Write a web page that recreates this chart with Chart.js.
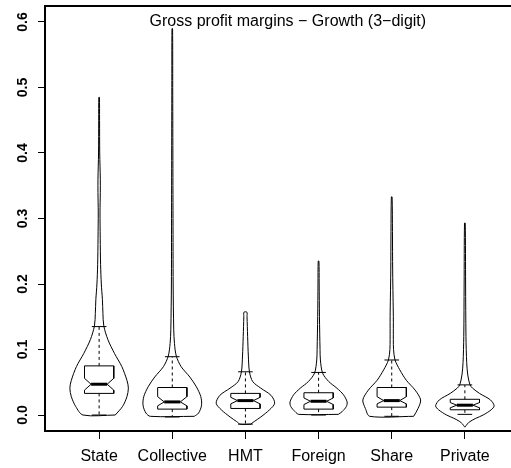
<!DOCTYPE html>
<html>
<head>
<meta charset="utf-8">
<script src="https://cdn.jsdelivr.net/npm/chart.js@4/dist/chart.umd.min.js"></script>
<style>
  html, body { margin: 0; padding: 0; background: #fff; overflow: hidden; }
  #wrap { width: 530px; height: 468px; }
</style>
</head>
<body>
<div id="wrap"><canvas id="violins"></canvas></div>
<script>
// categories and tick labels
const categories = ['State', 'Collective', 'HMT', 'Foreign', 'Share', 'Private'];
const yTicks = [0, 0.1, 0.2, 0.3, 0.4, 0.5, 0.6];
const chartTitle = 'Gross profit margins \u2212 Growth (3\u2212digit)';

// violin outlines: level (y) and half width (x units)
const stateLevels = [0.0, 0.013, 0.028, 0.041, 0.053, 0.074, 0.094, 0.115, 0.136, 0.155, 0.176, 0.2, 0.23, 0.27, 0.31, 0.34, 0.36, 0.4, 0.45, 0.485];
const stateWidths = [0.22, 0.32, 0.38, 0.40, 0.38, 0.31, 0.21, 0.12, 0.064, 0.052, 0.045, 0.03, 0.02, 0.015, 0.012, 0.016, 0.016, 0.008, 0.006, 0.004];
const collectiveLevels = [-0.002, 0.003, 0.015, 0.028, 0.043, 0.058, 0.074, 0.09, 0.109, 0.13, 0.2, 0.3, 0.4, 0.5, 0.59];
const collectiveWidths = [0.30, 0.36, 0.40, 0.39, 0.33, 0.24, 0.12, 0.055, 0.03, 0.02, 0.012, 0.01, 0.008, 0.006, 0.004];
const hmtLevels = [-0.014, -0.010, -0.003, 0.008, 0.018, 0.03, 0.041, 0.051, 0.066, 0.09, 0.12, 0.15, 0.157];
const hmtWidths = [0.07, 0.12, 0.21, 0.33, 0.40, 0.35, 0.21, 0.10, 0.055, 0.04, 0.03, 0.022, 0.02];
const foreignLevels = [0.001, 0.005, 0.013, 0.02, 0.031, 0.041, 0.051, 0.064, 0.084, 0.1, 0.15, 0.2, 0.235];
const foreignWidths = [0.27, 0.32, 0.38, 0.39, 0.34, 0.25, 0.14, 0.055, 0.025, 0.02, 0.012, 0.008, 0.005];
const shareLevels = [-0.002, 0.010, 0.023, 0.038, 0.053, 0.069, 0.084, 0.1, 0.115, 0.15, 0.18, 0.22, 0.28, 0.333];
const shareWidths = [0.30, 0.36, 0.395, 0.32, 0.20, 0.11, 0.045, 0.025, 0.022, 0.022, 0.018, 0.013, 0.01, 0.005];
const privateLevels = [-0.018, -0.014, -0.010, -0.005, 0.0, 0.008, 0.014, 0.023, 0.033, 0.041, 0.046, 0.061, 0.08, 0.12, 0.2, 0.293];
const privateWidths = [0.005, 0.03, 0.07, 0.15, 0.25, 0.36, 0.40, 0.35, 0.20, 0.105, 0.07, 0.04, 0.025, 0.015, 0.01, 0.005];

const violinLevels = [stateLevels, collectiveLevels, hmtLevels, foreignLevels, shareLevels, privateLevels];
const violinWidths = [stateWidths, collectiveWidths, hmtWidths, foreignWidths, shareWidths, privateWidths];

// notched box plot statistics
const q1 = [0.033, 0.009, 0.010, 0.009, 0.012, 0.008];
const medians = [0.047, 0.020, 0.022, 0.021, 0.022, 0.015];
const q3 = [0.075, 0.042, 0.033, 0.034, 0.042, 0.024];
const notchLow = [0.038, 0.014, 0.017, 0.016, 0.017, 0.011];
const notchHigh = [0.056, 0.028, 0.027, 0.026, 0.028, 0.019];
const whiskerLow = [0.0, -0.003, -0.014, 0.0, -0.002, 0.001];
const whiskerHigh = [0.135, 0.089, 0.066, 0.065, 0.084, 0.046];

const BOX_HALF = 0.2, NOTCH_HALF = 0.11, STAPLE_HALF = 0.1;

const line = (data, extra) => Object.assign({
  data: data,
  showLine: true,
  borderColor: '#000',
  borderWidth: 1,
  pointRadius: 0,
  fill: false,
  tension: 0
}, extra || {});

const datasets = [];
categories.forEach((name, i) => {
  const c = i + 1;
  const lv = violinLevels[i], w = violinWidths[i];
  const right = lv.map((v, k) => ({ x: c + w[k], y: v }));
  const left = lv.map((v, k) => ({ x: c - w[k], y: v })).reverse();
  datasets.push(line(right.concat(left, [right[0]]), { tension: 0.3 }));

  datasets.push(line([
    { x: c - BOX_HALF, y: q1[i] }, { x: c - BOX_HALF, y: notchLow[i] },
    { x: c - NOTCH_HALF, y: medians[i] }, { x: c - BOX_HALF, y: notchHigh[i] },
    { x: c - BOX_HALF, y: q3[i] }, { x: c + BOX_HALF, y: q3[i] },
    { x: c + BOX_HALF, y: notchHigh[i] }, { x: c + NOTCH_HALF, y: medians[i] },
    { x: c + BOX_HALF, y: notchLow[i] }, { x: c + BOX_HALF, y: q1[i] },
    { x: c - BOX_HALF, y: q1[i] }
  ]));
  datasets.push(line([{ x: c - NOTCH_HALF, y: medians[i] }, { x: c + NOTCH_HALF, y: medians[i] }], { borderWidth: 3 }));
  datasets.push(line([{ x: c, y: q3[i] }, { x: c, y: whiskerHigh[i] }], { borderDash: [3, 3] }));
  datasets.push(line([{ x: c, y: q1[i] }, { x: c, y: whiskerLow[i] }], { borderDash: [3, 3] }));
  datasets.push(line([{ x: c - STAPLE_HALF, y: whiskerHigh[i] }, { x: c + STAPLE_HALF, y: whiskerHigh[i] }]));
  datasets.push(line([{ x: c - STAPLE_HALF, y: whiskerLow[i] }, { x: c + STAPLE_HALF, y: whiskerLow[i] }]));
});

// frame, rotated y labels and the in-plot title
const decorations = {
  id: 'decorations',
  afterDraw(chart) {
    const { ctx, chartArea: a, scales } = chart;
    ctx.save();
    ctx.strokeStyle = '#000';
    ctx.lineWidth = 2;
    ctx.strokeRect(a.left, a.top, a.right - a.left, a.bottom - a.top);

    ctx.fillStyle = '#000';
    ctx.font = 'bold 14px "Liberation Sans", Arial, sans-serif';
    ctx.textAlign = 'center';
    ctx.textBaseline = 'middle';
    yTicks.forEach(t => {
      ctx.save();
      ctx.translate(23, scales.y.getPixelForValue(t));
      ctx.rotate(-Math.PI / 2);
      ctx.fillText(t.toFixed(1), 0, 0);
      ctx.restore();
    });

    ctx.font = '16px "Liberation Sans", Arial, sans-serif';
    ctx.fillText(chartTitle, scales.x.getPixelForValue(3.58), scales.y.getPixelForValue(0.6));
    ctx.restore();
  }
};

new Chart(document.getElementById('violins'), {
  type: 'scatter',
  data: { datasets: datasets },
  plugins: [decorations],
  options: {
    responsive: true,
    maintainAspectRatio: false,
    animation: false,
    layout: { padding: { top: 6, right: 11, left: 0, bottom: 0 } },
    plugins: { legend: { display: false }, tooltip: { enabled: false } },
    scales: {
      x: {
        type: 'linear',
        min: 0.26,
        max: 6.74,
        afterBuildTicks: s => { s.ticks = categories.map((n, i) => ({ value: i + 1 })); },
        afterFit: s => { s.height = 37; },
        grid: { drawOnChartArea: false, drawTicks: true, tickLength: 8, color: '#000' },
        border: { display: false },
        ticks: {
          autoSkip: false,
          maxRotation: 0,
          padding: 8,
          color: '#000',
          font: { family: '"Liberation Sans", Arial, sans-serif', size: 16 },
          callback: v => categories[v - 1]
        }
      },
      y: {
        type: 'linear',
        min: -0.0244,
        max: 0.6244,
        afterBuildTicks: s => { s.ticks = yTicks.map(v => ({ value: v })); },
        afterFit: s => { s.width = 45; },
        grid: { drawOnChartArea: false, drawTicks: true, tickLength: 7, color: '#000' },
        border: { display: false },
        ticks: { display: false }
      }
    }
  }
});
</script>
</body>
</html>
